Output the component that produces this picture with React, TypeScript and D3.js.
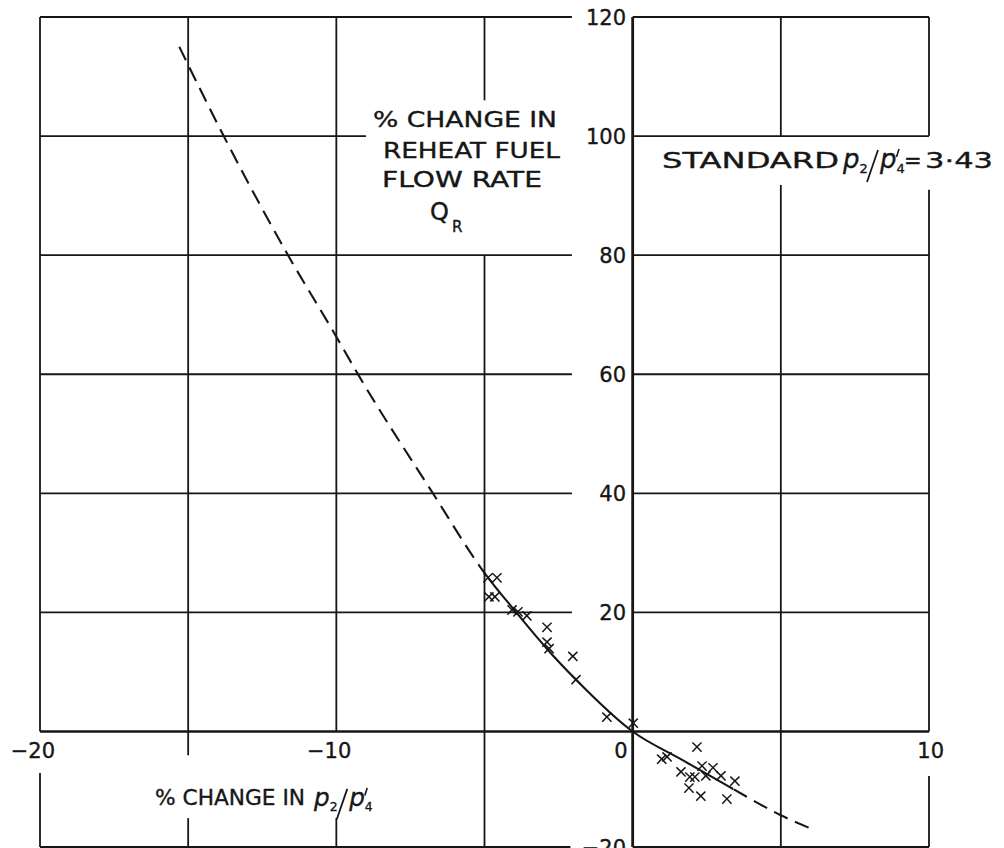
import React from "react";
import * as d3 from "d3";

// Fitted curve of Q_R (% change in reheat fuel flow rate) against % change in p2/p4'
const curveX = [-15.3, -13.8, -11.63, -10.0, -9.27, -6.74, -4.98, -3.97, -2.86, -1.91, 0, 1.7, 3.39, 5.0, 5.96];
const curveY = [115, 100, 80, 66.3, 60, 40, 26.5, 20.25, 13.7, 8.7, 0, -5.0, -9.96, -14.5, -16.7];

// Test points
const markerX = [-4.88, -4.58, -4.85, -4.65, -4.07, -3.87, -3.57, -2.89, -2.89, -2.82, -2.02, -1.91, -0.87, 0.02,
  2.17, 0.98, 1.16, 1.63, 1.93, 2.1, 2.34, 2.47, 2.71, 2.98, 3.45, 1.9, 2.3, 3.18];
const markerY = [25.8, 25.8, 22.6, 22.6, 20.4, 20.1, 19.4, 17.5, 15.0, 13.9, 12.6, 8.7, 2.4, 1.4,
  -2.7, -4.8, -4.4, -7.0, -7.9, -7.9, -6.0, -7.7, -6.3, -7.7, -8.6, -9.8, -11.2, -11.7];

const xGridValues = [-20, -15, -10, -5, 0, 5, 10];
const yGridValues = [120, 100, 80, 60, 40, 20, 0, -20];
const xLabelValues = [-20, -10, 0, 10];
const xLabelTexts = ["\u221220", "\u221210", "0", "10"];
const yLabelValues = [120, 100, 80, 60, 40, 20, -20];
const yLabelTexts = ["120", "100", "80", "60", "40", "20", "\u221220"];

// Solid part of the fitted curve (the rest is extrapolated, dashed)
const solidFrom = -4.92;
const solidTo = 3.4;

const W = 1004;
const H = 848;
const INK = "#161616";
const FONT = "'DejaVu Sans', sans-serif";

const x = d3.scaleLinear().domain([-20, 10]).range([40, 929]);
const y = d3.scaleLinear().domain([-20, 0, 120]).range([847, 731.5, 17]);

// Grid line pieces left open where lettering sits (data units)
const vSpans: Record<string, [number, number][]> = {
  "-20": [[0, 120], [-20, -7.2]],
  "-15": [[-4.1, 120], [-20, -15]],
  "-10": [[0, 120], [-20, -15]],
  "-5": [[-20, 80], [106, 120]],
  "0": [[-20, 120]],
  "5": [[-20, 91.8], [100, 120]],
  "10": [[100, 120], [0, 91], [-20, -7.7]],
};
const hSpans: Record<string, [number, number][]> = {
  "120": [[-20, -2.05], [0, 10]],
  "100": [[-20, -9.0], [0, 10]],
  "80": [[-20, -2.05], [0, 10]],
  "60": [[-20, -2.05], [0, 10]],
  "40": [[-20, -2.05], [0, 10]],
  "20": [[-20, -2.05], [0, 10]],
  "0": [[-20, 10]],
  "-20": [[-20, -2.1], [0, 10]],
};

const curvePath = d3
  .line<number>()
  .x((i) => x(curveX[i]))
  .y((i) => y(curveY[i]))
  .curve(d3.curveMonotoneX)(d3.range(curveX.length)) as string;

const crossPath = "M-4.6,-4.6 Q0,-0.6 4.6,4.6 M4.6,-4.6 Q0,-0.6 -4.6,4.6";

const textStyle = { fill: INK, stroke: INK, strokeWidth: 0.35, fontFamily: FONT };

function Grid() {
  const lines: React.ReactElement[] = [];
  xGridValues.forEach((v) => {
    (vSpans[String(v)] || [[-20, 120]]).forEach(([a, b], k) => {
      lines.push(
        <line key={`v${v}_${k}`} x1={x(v)} x2={x(v)} y1={y(a)} y2={y(b)}
          stroke={INK} strokeWidth={v === 0 ? 2.8 : 1.8} />
      );
    });
  });
  yGridValues.forEach((v) => {
    (hSpans[String(v)] || [[-20, 10]]).forEach(([a, b], k) => {
      lines.push(
        <line key={`h${v}_${k}`} x1={x(a)} x2={x(b)} y1={y(v)} y2={y(v)}
          stroke={INK} strokeWidth={v === 0 ? 2.6 : 1.8} />
      );
    });
  });
  return <g>{lines}</g>;
}

// p2 / p4' lettering: subscripts kept in the same text run, slash and prime as strokes
function Ratio({ x0, base, s }: { x0: number; base: number; s: number }) {
  return (
    <g>
      <text x={x0} y={base} fontSize={26 * s} fontStyle="italic" {...textStyle}>
        p<tspan fontSize={13 * s} fontStyle="normal" dy={5 * s}>2</tspan>
      </text>
      <line x1={x0 + 35 * s} y1={base - 18 * s} x2={x0 + 24 * s} y2={base + 14 * s}
        stroke={INK} strokeWidth={1.8} />
      <text x={x0 + 37 * s} y={base} fontSize={26 * s} fontStyle="italic" {...textStyle}>
        p<tspan fontSize={13 * s} fontStyle="normal" dy={5 * s}>4</tspan>
      </text>
      <line x1={x0 + 56 * s} y1={base - 19 * s} x2={x0 + 53.5 * s} y2={base - 11 * s}
        stroke={INK} strokeWidth={1.6} />
    </g>
  );
}

export default function App() {
  const sx0 = x(solidFrom);
  const sx1 = x(solidTo);
  return (
    <svg width={W} height={H} viewBox={`0 0 ${W} ${H}`}
      style={{ position: "absolute", left: 0, top: 0, background: "#fff" }}>
      <defs>
        <clipPath id="solidZone">
          <rect x={sx0} y={0} width={sx1 - sx0} height={H} />
        </clipPath>
        <clipPath id="dashZone">
          <rect x={0} y={0} width={sx0} height={H} />
          <rect x={sx1} y={0} width={W - sx1} height={H} />
        </clipPath>
      </defs>
      <rect width={W} height={H} fill="#fff" />
      <Grid />

      {/* fitted curve */}
      <path d={curvePath} fill="none" stroke={INK} strokeWidth={2.1}
        strokeDasharray="15 8" clipPath="url(#dashZone)" />
      <path d={curvePath} fill="none" stroke={INK} strokeWidth={2.1}
        clipPath="url(#solidZone)" />

      {/* test points */}
      <g fill="none" stroke={INK} strokeWidth={1.5}>
        {markerX.map((mx, i) => (
          <path key={i} d={crossPath} transform={`translate(${x(mx)},${y(markerY[i])})`} />
        ))}
      </g>

      {/* axis numbers */}
      <g fontSize={21} {...textStyle}>
        {yLabelValues.map((v, i) => (
          <text key={`y${v}`} x={626} y={y(v) + 7.6} textAnchor="end">{yLabelTexts[i]}</text>
        ))}
        {xLabelValues.map((v, i) => (
          <text key={`x${v}`} x={v === 0 ? x(v) - 5 : x(v) + 15} y={758} textAnchor="end">
            {xLabelTexts[i]}
          </text>
        ))}
      </g>

      {/* y-axis title */}
      <g fontSize={21} {...textStyle}>
        <text x={373} y={127} textLength={184} lengthAdjust="spacingAndGlyphs">% CHANGE IN</text>
        <text x={383} y={158} textLength={177} lengthAdjust="spacingAndGlyphs">REHEAT FUEL</text>
        <text x={382} y={187} textLength={160} lengthAdjust="spacingAndGlyphs">FLOW RATE</text>
        <text x={430} y={220} fontSize={24}>
          Q<tspan fontSize={15} dx={3} dy={12}>R</tspan>
        </text>
      </g>

      {/* x-axis title */}
      <g fontSize={21} {...textStyle}>
        <text x={155} y={805} textLength={150} lengthAdjust="spacingAndGlyphs">% CHANGE IN</text>
      </g>
      <Ratio x0={314} base={806} s={0.95} />

      {/* reference ratio note */}
      <g fontSize={21} {...textStyle}>
        <text x={662} y={168} textLength={177} lengthAdjust="spacingAndGlyphs">STANDARD</text>
        <text x={904} y={168}>=</text>
        <text x={925} y={168} textLength={68} lengthAdjust="spacingAndGlyphs">3·43</text>
      </g>
      <Ratio x0={843} base={168} s={1} />
    </svg>
  );
}
